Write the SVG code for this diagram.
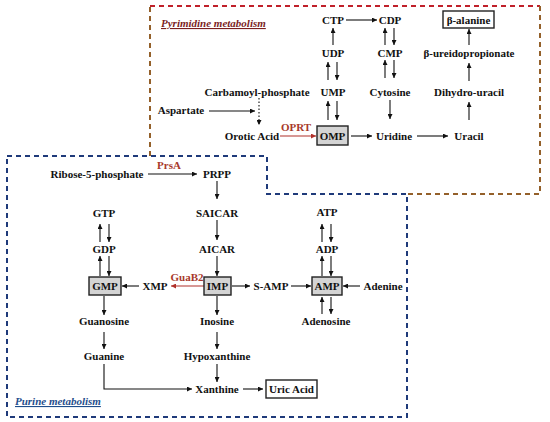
<svg xmlns="http://www.w3.org/2000/svg" width="550" height="422" viewBox="0 0 550 422">
<style>
text{font-family:"Liberation Serif","Times New Roman",serif;font-weight:bold;font-size:11px;text-anchor:middle;fill:#111}
.enz{fill:#A8392B}
.title{font-style:italic;text-decoration:underline;text-anchor:start}
.ln{stroke:#111;stroke-width:1.1;fill:none}
.red{stroke:#B0302A;stroke-width:1.1;fill:none}
.box{fill:#fff;stroke:#222;stroke-width:1.4}
.gbox{fill:#D4D4D4;stroke:#222;stroke-width:1.4}
.pyr{fill:none;stroke:#94602A;stroke-width:2;stroke-dasharray:5,4}
.pur{fill:none;stroke:#1F3A7A;stroke-width:2;stroke-dasharray:5,4}
</style>
<defs>
<marker id="ah" markerUnits="userSpaceOnUse" markerWidth="6" markerHeight="5" refX="5" refY="2.5" orient="auto"><path d="M0,0 L5,2.5 L0,5 z" fill="#111"/></marker>
<marker id="ahr" markerUnits="userSpaceOnUse" markerWidth="6" markerHeight="5" refX="5" refY="2.5" orient="auto"><path d="M0,0 L5,2.5 L0,5 z" fill="#B0302A"/></marker>
</defs>
<g id="regions">
<path class="pyr" d="M150,156 L150,6"/>
<path class="pyr" d="M150,6 L540,6" style="stroke:#C0202A"/>
<path class="pyr" d="M540,6 L540,194 L407,194"/>
<path class="pur" d="M7,156 L267,156 L267,194 L407,194 L407,417 L7,417 Z"/>
<text class="title" x="161" y="27" style="fill:#7B1F1F">Pyrimidine metabolism</text>
<text class="title" x="15" y="405" style="fill:#1F4E8C">Purine metabolism</text>
</g>
<g id="connectors">
<line class="ln" x1="346" y1="20" x2="377" y2="20" marker-end="url(#ah)"/>
<line class="ln" x1="333" y1="45" x2="333" y2="28" marker-end="url(#ah)"/>
<line class="ln" x1="385" y1="45" x2="385" y2="28" marker-end="url(#ah)"/>
<line class="ln" x1="394" y1="28" x2="394" y2="45" marker-end="url(#ah)"/>
<line class="ln" x1="328" y1="80" x2="328" y2="62" marker-end="url(#ah)"/>
<line class="ln" x1="337" y1="62" x2="337" y2="80" marker-end="url(#ah)"/>
<line class="ln" x1="385" y1="78" x2="385" y2="60" marker-end="url(#ah)"/>
<line class="ln" x1="394" y1="60" x2="394" y2="78" marker-end="url(#ah)"/>
<line class="ln" x1="328" y1="120" x2="328" y2="101" marker-end="url(#ah)"/>
<line class="ln" x1="337" y1="101" x2="337" y2="120" marker-end="url(#ah)"/>
<line class="ln" x1="390" y1="100" x2="390" y2="119" marker-end="url(#ah)"/>
<line class="ln" x1="469" y1="45" x2="469" y2="29" marker-end="url(#ah)"/>
<line class="ln" x1="469" y1="81" x2="469" y2="63" marker-end="url(#ah)"/>
<line class="ln" x1="469" y1="120" x2="469" y2="102" marker-end="url(#ah)"/>
<line class="ln" x1="209" y1="111" x2="255" y2="111" marker-end="url(#ah)"/>
<line class="ln" x1="259" y1="98" x2="259" y2="125" stroke-dasharray="1.5,2" marker-end="url(#ah)"/>
<line class="red" x1="280" y1="136" x2="316" y2="136" marker-end="url(#ahr)"/>
<line class="ln" x1="351" y1="136" x2="372" y2="136" marker-end="url(#ah)"/>
<line class="ln" x1="417" y1="136" x2="448" y2="136" marker-end="url(#ah)"/>
<line class="ln" x1="148" y1="174" x2="197" y2="174" marker-end="url(#ah)"/>
<line class="ln" x1="217" y1="181" x2="217" y2="199" marker-end="url(#ah)"/>
<line class="ln" x1="217" y1="220" x2="217" y2="240" marker-end="url(#ah)"/>
<line class="ln" x1="217" y1="256" x2="217" y2="276" marker-end="url(#ah)"/>
<line class="ln" x1="100" y1="242" x2="100" y2="224" marker-end="url(#ah)"/>
<line class="ln" x1="109" y1="224" x2="109" y2="242" marker-end="url(#ah)"/>
<line class="ln" x1="100" y1="276" x2="100" y2="256" marker-end="url(#ah)"/>
<line class="ln" x1="109" y1="256" x2="109" y2="276" marker-end="url(#ah)"/>
<line class="ln" x1="322" y1="242" x2="322" y2="224" marker-end="url(#ah)"/>
<line class="ln" x1="331" y1="224" x2="331" y2="242" marker-end="url(#ah)"/>
<line class="ln" x1="322" y1="276" x2="322" y2="256" marker-end="url(#ah)"/>
<line class="ln" x1="331" y1="256" x2="331" y2="276" marker-end="url(#ah)"/>
<line class="ln" x1="139" y1="286" x2="122" y2="286" marker-end="url(#ah)"/>
<line class="red" x1="204" y1="286" x2="171" y2="286" marker-end="url(#ahr)"/>
<line class="ln" x1="232" y1="286" x2="250" y2="286" marker-end="url(#ah)"/>
<line class="ln" x1="291" y1="286" x2="311" y2="286" marker-end="url(#ah)"/>
<line class="ln" x1="360" y1="286" x2="343" y2="286" stroke-width="2" marker-end="url(#ah)"/>
<line class="ln" x1="104" y1="296" x2="104" y2="315" marker-end="url(#ah)"/>
<line class="ln" x1="217" y1="296" x2="217" y2="315" marker-end="url(#ah)"/>
<line class="ln" x1="322" y1="314" x2="322" y2="297" marker-end="url(#ah)"/>
<line class="ln" x1="331" y1="297" x2="331" y2="314" marker-end="url(#ah)"/>
<line class="ln" x1="104" y1="332" x2="104" y2="349" marker-end="url(#ah)"/>
<line class="ln" x1="217" y1="332" x2="217" y2="349" marker-end="url(#ah)"/>
<line class="ln" x1="217" y1="364" x2="217" y2="382" marker-end="url(#ah)"/>
<polyline class="ln" points="104,364 104,389 192,389" marker-end="url(#ah)"/>
<line class="ln" x1="243" y1="389" x2="263" y2="389" marker-end="url(#ah)"/>
</g>
<g id="labels">
<text class="enz" x="296" y="131">OPRT</text>
<text class="enz" x="169" y="169">PrsA</text>
<text class="enz" x="187" y="281">GuaB2</text>
</g>
<g id="n-CTP"><text x="333" y="24">CTP</text></g>
<g id="n-CDP"><text x="390" y="24">CDP</text></g>
<g id="n-balanine"><rect class="box" x="443" y="11" width="51" height="17"/><text x="468.5" y="24">β-alanine</text></g>
<g id="n-UDP"><text x="333" y="57">UDP</text></g>
<g id="n-CMP"><text x="390" y="57">CMP</text></g>
<g id="n-bureido"><text x="469" y="57">β-ureidopropionate</text></g>
<g id="n-carbamoyl"><text x="257" y="96">Carbamoyl-phosphate</text></g>
<g id="n-UMP"><text x="333" y="96">UMP</text></g>
<g id="n-cytosine"><text x="390" y="96">Cytosine</text></g>
<g id="n-dihydrouracil"><text x="469" y="96">Dihydro-uracil</text></g>
<g id="n-aspartate"><text x="181" y="114">Aspartate</text></g>
<g id="n-orotic"><text x="252" y="140">Orotic Acid</text></g>
<g id="n-OMP"><rect class="gbox" x="317" y="126" width="31" height="19"/><text x="332.5" y="140">OMP</text></g>
<g id="n-uridine"><text x="394" y="140">Uridine</text></g>
<g id="n-uracil"><text x="469" y="140">Uracil</text></g>
<g id="n-ribose"><text x="97" y="178">Ribose-5-phosphate</text></g>
<g id="n-PRPP"><text x="217" y="178">PRPP</text></g>
<g id="n-GTP"><text x="104" y="217">GTP</text></g>
<g id="n-SAICAR"><text x="217" y="217">SAICAR</text></g>
<g id="n-ATP"><text x="327" y="216">ATP</text></g>
<g id="n-GDP"><text x="104" y="253">GDP</text></g>
<g id="n-AICAR"><text x="217" y="253">AICAR</text></g>
<g id="n-ADP"><text x="327" y="253">ADP</text></g>
<g id="n-GMP"><rect class="gbox" x="89" y="277" width="32" height="18"/><text x="105" y="290">GMP</text></g>
<g id="n-XMP"><text x="155" y="290">XMP</text></g>
<g id="n-IMP"><rect class="gbox" x="204" y="277" width="27" height="18"/><text x="217.5" y="290">IMP</text></g>
<g id="n-SAMP"><text x="271" y="290">S-AMP</text></g>
<g id="n-AMP"><rect class="gbox" x="312" y="277" width="30" height="18"/><text x="327" y="290">AMP</text></g>
<g id="n-adenine"><text x="383" y="290">Adenine</text></g>
<g id="n-guanosine"><text x="104" y="325">Guanosine</text></g>
<g id="n-inosine"><text x="217" y="325">Inosine</text></g>
<g id="n-adenosine"><text x="326" y="325">Adenosine</text></g>
<g id="n-guanine"><text x="104" y="360">Guanine</text></g>
<g id="n-hypoxanthine"><text x="217" y="360">Hypoxanthine</text></g>
<g id="n-xanthine"><text x="217" y="393">Xanthine</text></g>
<g id="n-uric"><rect class="box" x="266" y="380" width="51" height="18"/><text x="291.5" y="393">Uric Acid</text></g>
</svg>
